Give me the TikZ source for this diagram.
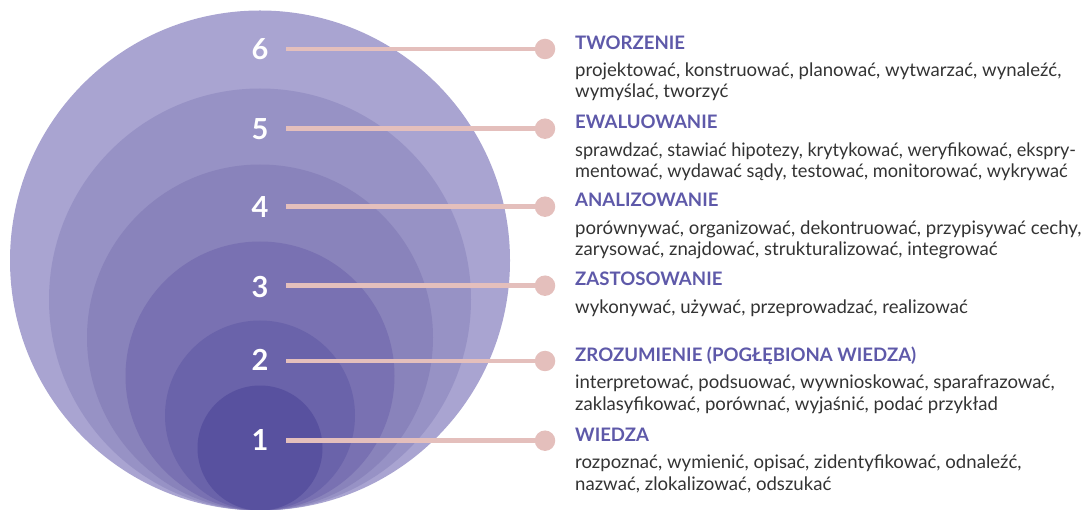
\documentclass[tikz,border=0pt]{standalone}
\usepackage{fontspec}
\setmainfont{Lato}
\definecolor{c6}{HTML}{A9A4D1}
\definecolor{c5}{HTML}{9792C5}
\definecolor{c4}{HTML}{8983BB}
\definecolor{c3}{HTML}{7971B2}
\definecolor{c2}{HTML}{6A63AA}
\definecolor{c1}{HTML}{58519F}
\definecolor{linec}{HTML}{E4BFBC}
\definecolor{titlec}{HTML}{5E59A9}
\definecolor{bodyc}{HTML}{333333}
\tikzset{
  num/.style={text=white, font=\fontsize{29}{29}\selectfont\bfseries, inner sep=0pt},
  dotnode/.style={circle, fill=linec, minimum size=20.5pt, inner sep=0pt},
  conn/.style={draw=linec, line width=4.8pt},
  ttl/.style={anchor=base west, inner sep=0pt, text=titlec, font=\fontsize{18.6}{18.6}\selectfont\bfseries},
  bdy/.style={anchor=base west, inner sep=0pt, text=bodyc, font=\fontsize{18.6}{18.6}\selectfont},
}
\begin{document}
\begin{tikzpicture}[x=1pt,y=-1pt]
\useasboundingbox (0,0) rectangle (1084,510);
% nested circles
\fill[c6] (260,260.5) circle [radius=250pt];
\fill[c5] (260,299.5) circle [radius=211pt];
\fill[c4] (260,337.5) circle [radius=173pt];
\fill[c3] (260,376) circle [radius=134.5pt];
\fill[c2] (260,415.5) circle [radius=95pt];
\fill[c1] (260,448) circle [radius=62.5pt];
% numbers
\node[num] (n6) at (260,49) {6};
\node[num] (n5) at (260,129) {5};
\node[num] (n4) at (260,207) {4};
\node[num] (n3) at (260,287) {3};
\node[num] (n2) at (260,360) {2};
\node[num] (n1) at (260,440) {1};
% connectors
\foreach \i/\y in {6/49, 5/128.7, 4/206.7, 3/285.7, 2/361, 1/440.7}{
  \coordinate (s\i) at (286,\y);
  \node[dotnode] (d\i) at (545,\y) {};
  \draw[conn] (s\i) -- (d\i.center);
}
% texts
\node[ttl] (t6) at (575,49.3) {TWORZENIE};
\node[bdy] (b6a) at (575,76.5) {projektować, konstruować, planować, wytwarzać, wynaleźć,};
\node[bdy] (b6b) at (575,98) {wymyślać, tworzyć};

\node[ttl] (t5) at (575,129) {EWALUOWANIE};
\node[bdy] (b5a) at (575,156.2) {\scalebox{0.972}[1]{sprawdzać, stawiać hipotezy, krytykować, weryfikować, ekspry-}};
\node[bdy] (b5b) at (575,177.7) {\scalebox{0.98}[1]{mentować, wydawać sądy, testować, monitorować, wykrywać}};

\node[ttl] (t4) at (575,207) {ANALIZOWANIE};
\node[bdy] (b4a) at (575,234.2) {porównywać, organizować, dekontruować, przypisywać cechy,};
\node[bdy] (b4b) at (575,255.7) {zarysować, znajdować, strukturalizować, integrować};

\node[ttl] (t3) at (575,286) {ZASTOSOWANIE};
\node[bdy] (b3a) at (575,313.2) {wykonywać, używać, przeprowadzać, realizować};

\node[ttl] (t2) at (575,361.5) {ZROZUMIENIE (POGŁĘBIONA WIEDZA)};
\node[bdy] (b2a) at (575,388.7) {interpretować, podsuować, wywnioskować, sparafrazować,};
\node[bdy] (b2b) at (575,410.2) {zaklasyfikować, porównać, wyjaśnić, podać przykład};

\node[ttl] (t1) at (575,441.5) {WIEDZA};
\node[bdy] (b1a) at (575,468.7) {rozpoznać, wymienić, opisać, zidentyfikować, odnaleźć,};
\node[bdy] (b1b) at (575,490.2) {nazwać, zlokalizować, odszukać};
\end{tikzpicture}
\end{document}
